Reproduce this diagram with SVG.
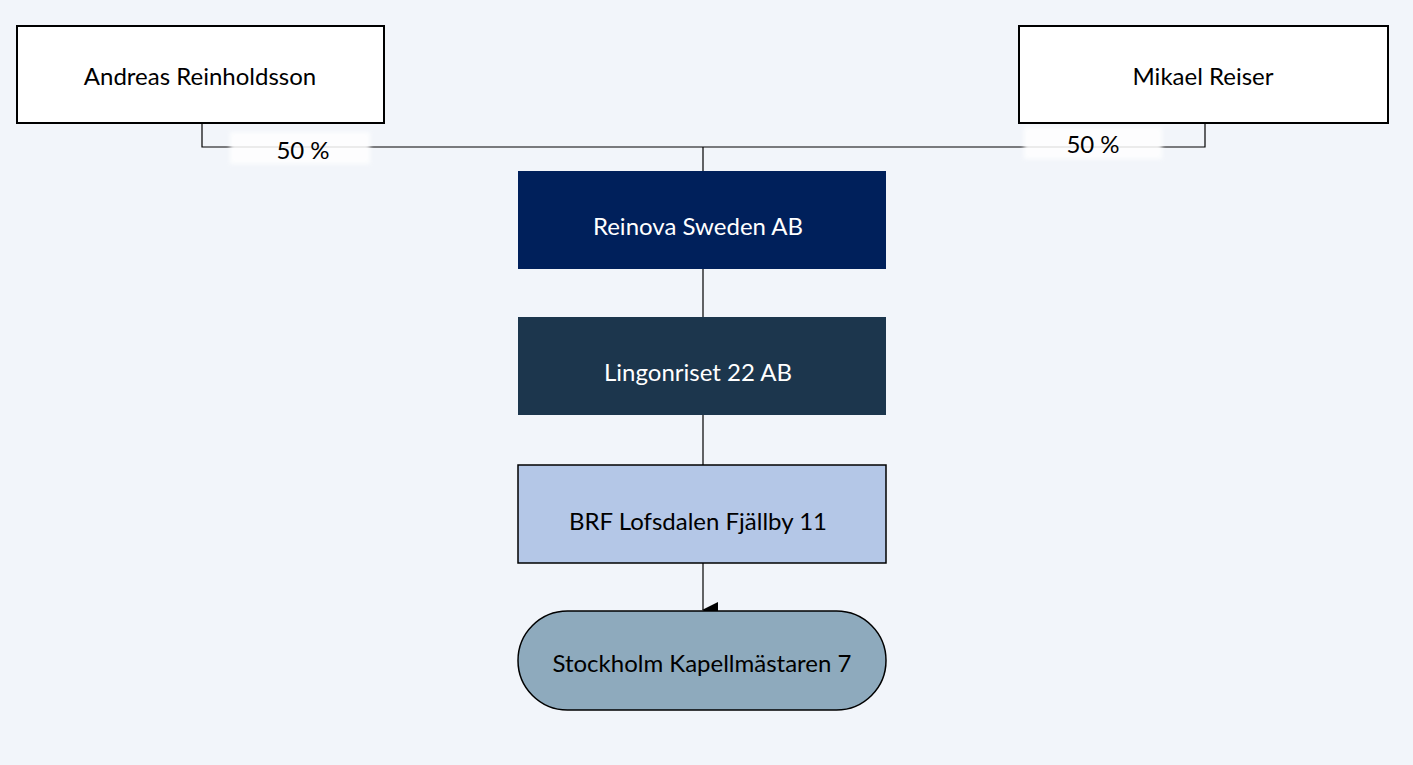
<svg xmlns="http://www.w3.org/2000/svg" width="1413" height="765" viewBox="0 0 1413 765">
<style>
text{font-family:Lato,"Liberation Sans",sans-serif;font-size:24px;text-anchor:middle;dominant-baseline:central}
.c{fill:none;stroke:#000;stroke-width:1.2}
.w{fill:#fff;stroke:#000;stroke-width:2}
</style>
<defs>
<marker id="a" markerWidth="16" markerHeight="16" refX="8" refY="15" orient="auto" markerUnits="userSpaceOnUse" viewBox="0 0 16 16"><path d="M0,0L16,0L8,16Z" fill="#000"/></marker>
<filter id="b" x="-10%" y="-20%" width="120%" height="140%"><feGaussianBlur stdDeviation="2"/></filter>
</defs>
<rect width="1413" height="765" fill="#f2f5fa"/>
<g id="connectors">
<path class="c" d="M202,123V147H1205V123"/>
<path class="c" d="M703,147V171M703,269V317M703,415V465"/>
<path class="c" d="M703,563V610" marker-end="url(#a)"/>
<rect x="230" y="132" width="140" height="32" fill="#fff" filter="url(#b)" opacity="0.85"/>
<text x="303" y="149">50 %</text>
<rect x="1024" y="127" width="138" height="32" fill="#fff" filter="url(#b)" opacity="0.85"/>
<text x="1093" y="143">50 %</text>
</g>
<g id="andreas"><rect class="w" x="17" y="26" width="367" height="97"/><text x="200" y="75">Andreas Reinholdsson</text></g>
<g id="mikael"><rect class="w" x="1019" y="26" width="369" height="97"/><text x="1203" y="75">Mikael Reiser</text></g>
<g id="reinova"><rect x="518" y="171" width="368" height="98" fill="#00205b"/><text x="698" y="225" fill="#fff">Reinova Sweden AB</text></g>
<g id="lingon"><rect x="518" y="317" width="368" height="98" fill="#1c364d"/><text x="698" y="371" fill="#fff">Lingonriset 22 AB</text></g>
<g id="brf"><rect x="518" y="465" width="368" height="98" fill="#b4c7e7" stroke="#000" stroke-width="1.5"/><text x="698" y="520">BRF Lofsdalen Fjällby 11</text></g>
<g id="sthlm"><rect x="518" y="611" width="368" height="99" rx="49.5" fill="#8eaabd" stroke="#000" stroke-width="1.5"/><text x="702" y="662">Stockholm Kapellmästaren 7</text></g>
</svg>
